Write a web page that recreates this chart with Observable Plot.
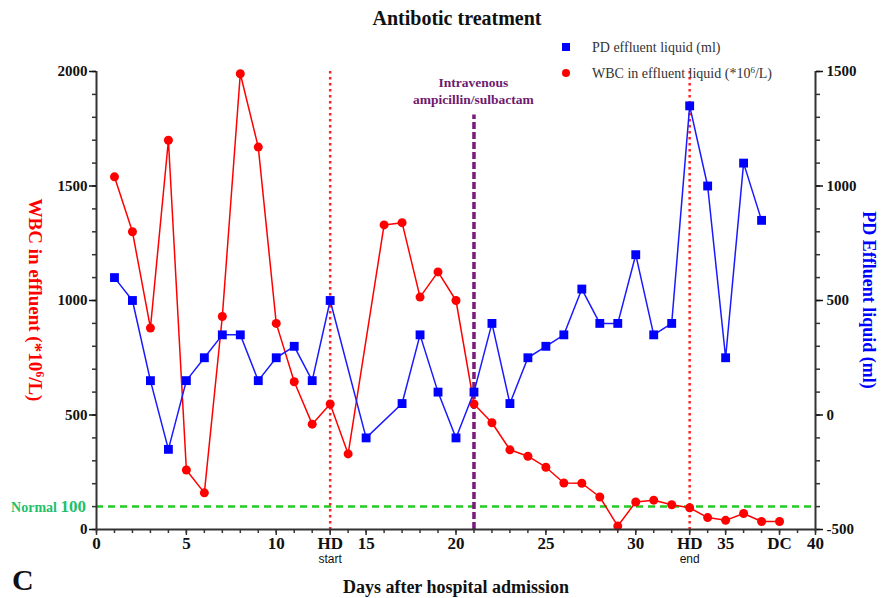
<!DOCTYPE html>
<html>
<head>
<meta charset="utf-8">
<script src="https://cdn.jsdelivr.net/npm/d3@7"></script>
<script src="https://cdn.jsdelivr.net/npm/@observablehq/plot@0.6"></script>
<style>
  body { margin: 0; background: #fff; }
  #chart { width: 881px; height: 598px; }
</style>
</head>
<body>
<div id="chart"></div>
<script>
// ---- data ----
const wbcDays   = [1,2,3,4,5,6,7,8,9,10,11,12,13,14,16,17,18,19,20,21,22,23,24,25,26,27,28,29,30,31,32,33,34,35,36,37,38];
const wbcValues = [1540,1300,880,1700,260,160,930,1990,1670,900,645,460,548,330,1330,1340,1015,1125,1000,548,466,348,320,272,203,202,142,15,120,128,108,95,52,40,70,35,35];
const pdDays    = [1,2,3,4,5,6,7,8,9,10,11,12,13,15,17,18,19,20,21,22,23,24,25,26,27,28,29,30,31,32,33,34,35,36,37];
const pdValues  = [600,500,150,-150,150,250,350,350,150,250,300,150,500,-100,50,350,100,-100,100,400,50,250,300,350,550,400,400,700,350,400,1350,1000,250,1100,850];
const xTickPositions = [0,5,10,13,15,20,25,30,33,35,38,40];
const xTickLabels    = ["0","5","10","HD","15","20","25","30","HD","35","DC","40"];
const xSubPositions  = [13,33];
const xSubLabels     = ["start","end"];
const leftTicks  = [0,500,1000,1500,2000];
const rightTicks = [-500,0,500,1000,1500];
const normalValue = 100;
const hdDays = [13,33];
const ivDay = 21;
const titleText = "Antibotic treatment";
const xTitle = "Days after hospital admission";
const ivLabel = ["Intravenous","ampicillin/sulbactam"];
const pdLegend = "PD effluent liquid (ml)";
const panelLetter = "C";

// right axis (-500..1500) shares the frame with left axis (0..2000)
const offset = 500;

const wbc = wbcDays.map((d, i) => ({day: d, value: wbcValues[i]}));
const pd  = pdDays.map((d, i) => ({day: d, value: pdValues[i]}));

const serif = "'Liberation Serif', 'Times New Roman', serif";
const sans  = "'Liberation Sans', Arial, sans-serif";
const axisColor = "#333";

const plot = Plot.plot({
  width: 881,
  height: 598,
  marginLeft: 96,
  marginRight: 66,
  marginTop: 71,
  marginBottom: 69,
  x: {domain: [0, 40], label: null},
  y: {domain: [0, 2000], label: null},
  style: {fontFamily: serif, background: "white", overflow: "visible"},
  marks: [
    Plot.ruleY([normalValue], {stroke: "#22cc22", strokeWidth: 2.5, strokeDasharray: "7,5"}),
    Plot.ruleX(hdDays, {stroke: "#ff2222", strokeWidth: 2.5, strokeDasharray: "2.5,3.5"}),
    Plot.ruleX([ivDay], {y1: 0, y2: 1810, stroke: "#7a1a7a", strokeWidth: 3.5, strokeDasharray: "7,3"}),
    // WBC series (left axis)
    Plot.line(wbc, {x: "day", y: "value", stroke: "#ff0000", strokeWidth: 1.5}),
    Plot.dot(wbc, {x: "day", y: "value", fill: "#ff0000", r: 4.5, stroke: "none"}),
    // PD series (right axis)
    Plot.line(pd, {x: "day", y: d => d.value + offset, stroke: "#1a1aff", strokeWidth: 1.5}),
    Plot.dot(pd, {x: "day", y: d => d.value + offset, symbol: "square", fill: "#0000ff", r: 5, stroke: "none"}),
    // axis lines
    Plot.ruleX([0], {stroke: axisColor, strokeWidth: 2}),
    Plot.ruleX([40], {stroke: axisColor, strokeWidth: 2}),
    Plot.ruleY([0], {stroke: axisColor, strokeWidth: 2}),
    // left axis
    Plot.axisY(d3.range(0, 2001, 100), {anchor: "left", tickSize: 4, tickFormat: () => "", label: null, color: axisColor, strokeWidth: 1.5}),
    Plot.axisY(leftTicks, {anchor: "left", tickSize: 7, tickPadding: 2, tickFormat: v => String(v), label: null, color: "#111", fontSize: 15, fontWeight: "bold", strokeWidth: 1.5}),
    // right axis
    Plot.axisY(d3.range(0, 2001, 100), {anchor: "right", tickSize: 4, tickFormat: () => "", label: null, color: axisColor, strokeWidth: 1.5}),
    Plot.axisY(rightTicks.map(v => v + offset), {anchor: "right", tickSize: 7, tickPadding: 4, tickFormat: v => String(v - offset), label: null, color: "#111", fontSize: 15, fontWeight: "bold", strokeWidth: 1.5}),
    // bottom axis
    Plot.axisX(d3.range(0, 41, 1), {anchor: "bottom", tickSize: 4, tickFormat: () => "", label: null, color: axisColor, strokeWidth: 1.5}),
    Plot.axisX(xTickPositions, {anchor: "bottom", tickSize: 6, tickFormat: () => "", label: null, color: axisColor, strokeWidth: 1.5}),
    Plot.text(xTickLabels, {x: (d, i) => xTickPositions[i], text: d => d, frameAnchor: "bottom", dy: 19, fontSize: 17, fontWeight: "bold", fill: "#111"}),
    Plot.text(xSubLabels, {x: (d, i) => xSubPositions[i], text: d => d, frameAnchor: "bottom", dy: 33, fontSize: 12, fontFamily: sans, fill: "#111"})
  ]
});

document.getElementById("chart").appendChild(plot);

// ---- annotations outside the data marks ----
const svg = d3.select(plot);
const xs = plot.scale("x");
const ys = plot.scale("y");

svg.append("text").attr("x", 457).attr("y", 25)
  .attr("text-anchor", "middle").attr("font-family", serif).attr("font-size", 20).attr("font-weight", "bold").attr("fill", "#111")
  .text(titleText);

svg.append("text").attr("x", 456).attr("y", 593)
  .attr("text-anchor", "middle").attr("font-family", serif).attr("font-size", 18).attr("font-weight", "bold").attr("fill", "#111")
  .text(xTitle);

svg.append("text").attr("x", 12).attr("y", 590).attr("text-anchor", "start")
  .attr("font-family", serif).attr("font-size", 30).attr("font-weight", "bold").attr("fill", "#111")
  .text(panelLetter);

// intravenous annotation
const ivx = xs.apply(ivDay);
ivLabel.forEach((t, i) => {
  svg.append("text").attr("x", ivx).attr("y", 87 + i * 17)
    .attr("text-anchor", "middle").attr("font-family", serif).attr("font-size", 13.5).attr("font-weight", "bold").attr("fill", "#6e1a6e")
    .text(t);
});

// legend
svg.append("rect").attr("x", 562).attr("y", 43).attr("width", 8).attr("height", 8).attr("fill", "#0000ff");
svg.append("text").attr("x", 592).attr("y", 52).attr("text-anchor", "start").attr("font-family", serif).attr("font-size", 14).attr("fill", "#333").text(pdLegend);
svg.append("circle").attr("cx", 566).attr("cy", 73).attr("r", 4).attr("fill", "#ff0000");
const lg2 = svg.append("text").attr("x", 592).attr("y", 78).attr("text-anchor", "start").attr("font-family", serif).attr("font-size", 14).attr("fill", "#333");
lg2.append("tspan").text("WBC in effluent liquid (*10");
lg2.append("tspan").attr("dy", -5).attr("font-size", 9).text("6");
lg2.append("tspan").attr("dy", 5).text("/L)");

// Normal 100 label
const ny = ys.apply(normalValue);
const nt = svg.append("text").attr("x", 86).attr("y", ny + 6).attr("text-anchor", "end")
  .attr("font-family", serif).attr("font-weight", "bold").attr("fill", "#1fbf6a");
nt.append("tspan").attr("font-size", 14).text("Normal ");
nt.append("tspan").attr("font-size", 17).text("100");

// left y title (reads top to bottom)
const lt = svg.append("text").attr("transform", "translate(29,300) rotate(90)")
  .attr("text-anchor", "middle").attr("font-family", serif).attr("font-size", 19).attr("font-weight", "bold").attr("fill", "#ff0000");
lt.append("tspan").text("WBC in effluent (*10");
lt.append("tspan").attr("dy", -7).attr("font-size", 12).text("6");
lt.append("tspan").attr("dy", 7).text("/L)");

// right y title
svg.append("text").attr("transform", "translate(863,300) rotate(90)")
  .attr("text-anchor", "middle").attr("font-family", serif).attr("font-size", 18).attr("font-weight", "bold").attr("fill", "#0000ff")
  .text("PD Effluent liquid (ml)");
</script>
</body>
</html>
